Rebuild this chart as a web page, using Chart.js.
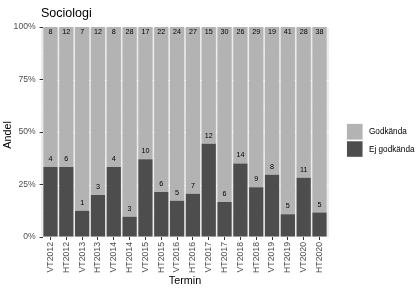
<!DOCTYPE html>
<html>
<head>
<meta charset="utf-8">
<script src="https://cdn.jsdelivr.net/npm/chart.js@4"></script>
<style>
  html, body { margin: 0; padding: 0; background: #fff; }
  #wrap { width: 418px; height: 289px; }
</style>
</head>
<body>
<div id="wrap"><canvas id="chart" width="418" height="289"></canvas></div>
<script>
// data
const terms = ['VT2012', 'HT2012', 'VT2013', 'HT2013', 'VT2014', 'HT2014', 'VT2015', 'HT2015', 'VT2016',
               'HT2016', 'VT2017', 'HT2017', 'VT2018', 'HT2018', 'VT2019', 'HT2019', 'VT2020', 'HT2020'];
const godkanda = [8, 12, 7, 12, 8, 28, 17, 22, 24, 27, 15, 30, 26, 29, 19, 41, 28, 38];
const ejGodkanda = [4, 6, 1, 3, 4, 3, 10, 6, 5, 7, 12, 6, 14, 9, 8, 5, 11, 5];
const yTicks = [0, 25, 50, 75, 100];
const yMinor = [12.5, 37.5, 62.5, 87.5];

// shares (position = "fill")
const ejShare = ejGodkanda.map((n, i) => n / (n + godkanda[i]) * 100);
const godShare = godkanda.map((n, i) => n / (n + ejGodkanda[i]) * 100);

const FONT = "'Liberation Sans', Arial, sans-serif";
const panelL = 41, panelR = 329, panelT = 27, panelB = 237;
const unit = (panelR - panelL) / (terms.length + 0.2);  // ggplot discrete expand 0.6

const ggPanel = {
    id: 'ggPanel',
    beforeDraw(chart) {
        const ctx = chart.ctx;
        const x = chart.scales.x, y = chart.scales.y;
        ctx.save();
        ctx.fillStyle = '#EBEBEB';
        ctx.fillRect(panelL, panelT, panelR - panelL, panelB - panelT);
        ctx.strokeStyle = '#FFFFFF';
        ctx.lineWidth = 0.5;
        yMinor.forEach(v => {
            const py = y.getPixelForValue(v);
            ctx.beginPath(); ctx.moveTo(panelL, py); ctx.lineTo(panelR, py); ctx.stroke();
        });
        ctx.lineWidth = 1;
        yTicks.forEach(v => {
            const py = Math.round(y.getPixelForValue(v)) + 0.5;
            ctx.beginPath(); ctx.moveTo(panelL, py); ctx.lineTo(panelR, py); ctx.stroke();
        });
        terms.forEach((t, i) => {
            const px = Math.round(x.getPixelForValue(i)) + 0.5;
            ctx.beginPath(); ctx.moveTo(px, panelT); ctx.lineTo(px, panelB); ctx.stroke();
        });
        ctx.restore();
    },
    afterDatasetsDraw(chart) {
        const ctx = chart.ctx;
        const y = chart.scales.y;
        const ejMeta = chart.getDatasetMeta(0);
        ctx.save();
        ctx.fillStyle = '#000';
        ctx.font = '7.2px ' + FONT;
        ctx.textAlign = 'center';
        ctx.textBaseline = 'middle';
        ejMeta.data.forEach((bar, i) => {
            ctx.fillText(String(ejGodkanda[i]), bar.x, bar.y - 8);
            ctx.fillText(String(godkanda[i]), bar.x, y.getPixelForValue(100) + 5);
        });
        ctx.restore();
    },
    afterDraw(chart) {
        const ctx = chart.ctx;
        ctx.save();
        ctx.fillStyle = '#000';
        // title
        ctx.font = '12.5px ' + FONT;
        ctx.textAlign = 'left';
        ctx.textBaseline = 'alphabetic';
        ctx.fillText('Sociologi', panelL, 17);
        // axis titles
        ctx.font = '10.8px ' + FONT;
        ctx.textAlign = 'center';
        ctx.textBaseline = 'middle';
        ctx.fillText('Termin', (panelL + panelR) / 2, 281);
        ctx.save();
        ctx.translate(8, 135);
        ctx.rotate(-Math.PI / 2);
        ctx.fillText('Andel', 0, 0);
        ctx.restore();
        // legend
        const items = [['Godkända', '#B3B3B3'], ['Ej godkända', '#4D4D4D']];
        ctx.font = '8.2px ' + FONT;
        ctx.textAlign = 'left';
        items.forEach(([label, col], k) => {
            const top = 123.5 + k * 17.3;
            ctx.fillStyle = '#F2F2F2';
            ctx.fillRect(346.5, top, 16.5, 16.5);
            ctx.fillStyle = col;
            ctx.fillRect(347, top + 0.5, 15.5, 15.5);
            ctx.fillStyle = '#000';
            ctx.fillText(label, 369, top + 8.5);
        });
        ctx.restore();
    }
};

new Chart(document.getElementById('chart').getContext('2d'), {
    type: 'bar',
    data: {
        labels: terms,
        datasets: [
            {
                label: 'Ej godkända',
                data: ejShare,
                backgroundColor: '#4D4D4D',
                borderWidth: 0,
                barPercentage: 0.9,
                categoryPercentage: 1.0
            },
            {
                label: 'Godkända',
                data: godShare,
                backgroundColor: '#B3B3B3',
                borderWidth: 0,
                barPercentage: 0.9,
                categoryPercentage: 1.0
            }
        ]
    },
    options: {
        responsive: false,
        animation: false,
        layout: {
            padding: { left: 0, right: 418 - (panelR - 0.1 * unit), top: panelT, bottom: 0 }
        },
        plugins: {
            legend: { display: false },
            tooltip: { enabled: false },
            title: { display: false }
        },
        scales: {
            x: {
                stacked: true,
                offset: true,
                border: { display: false },
                grid: { drawOnChartArea: false, offset: false, tickLength: 3, tickColor: '#333333', lineWidth: 1 },
                ticks: {
                    autoSkip: false, minRotation: 90, maxRotation: 90, padding: 2,
                    color: '#4D4D4D', font: { size: 8.7, family: FONT }
                },
                afterFit(scale) { scale.height = 289 - panelB; }
            },
            y: {
                stacked: true,
                min: 0,
                max: 100,
                border: { display: false },
                grid: { drawOnChartArea: false, tickLength: 3, tickColor: '#333333', lineWidth: 1 },
                ticks: {
                    stepSize: 25, padding: 4,
                    color: '#4D4D4D', font: { size: 8.6, family: FONT },
                    callback: v => v + '%'
                },
                afterFit(scale) { scale.width = panelL + 0.1 * unit; }
            }
        }
    },
    plugins: [ggPanel]
});
</script>
</body>
</html>
